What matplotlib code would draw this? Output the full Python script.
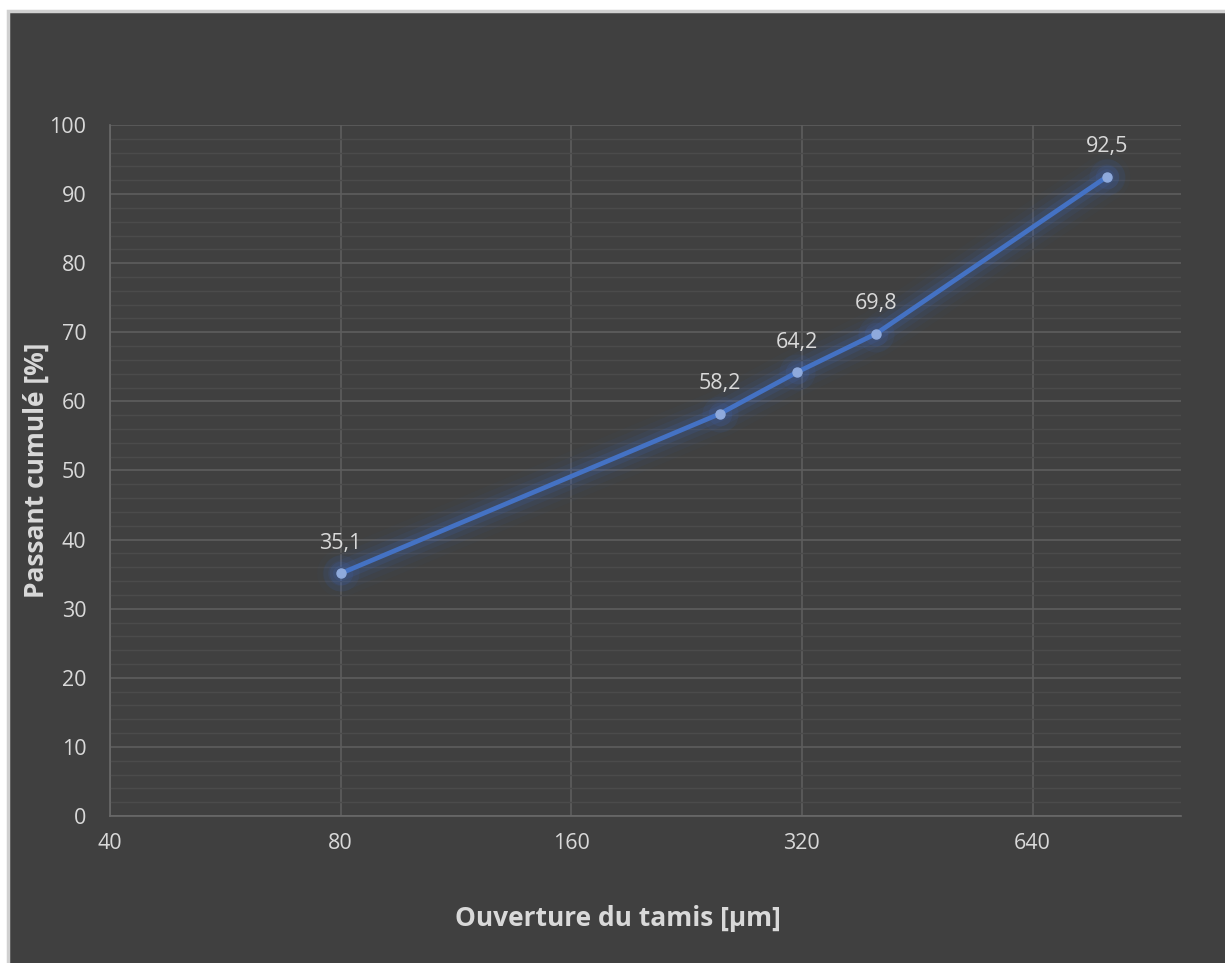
import matplotlib.pyplot as plt
from matplotlib.patches import Rectangle
from matplotlib.ticker import FixedLocator, FixedFormatter, MultipleLocator

# Cumulative passing by sieve opening
ouverture = [80, 250, 315, 400, 800]
passant = [35.1, 58.2, 64.2, 69.8, 92.5]
x_ticks = [40, 80, 160, 320, 640]
x_tick_labels = ['40', '80', '160', '320', '640']

plt.rcParams['font.family'] = ['Open Sans', 'DejaVu Sans']

bg = '#404040'
txt = '#d9d9d9'

fig = plt.figure(figsize=(12.25, 9.63), dpi=100, facecolor='white')
# dark chart area with a light frame on the top/left edges
fig.patches.append(Rectangle((8 / 1225, -0.05), 1.1, 1.05 - 11 / 963,
                             transform=fig.transFigure, facecolor=bg,
                             edgecolor='#d0d0d0', linewidth=2.5, zorder=-1))

ax = fig.add_axes([110 / 1225, 1 - 816 / 963, (1181 - 110) / 1225, (816 - 125) / 963])
ax.set_facecolor(bg)
ax.set_xscale('log', base=2)
ax.set_xlim(40, 1000)
ax.set_ylim(0, 100)

ax.xaxis.set_major_locator(FixedLocator(x_ticks))
ax.xaxis.set_major_formatter(FixedFormatter(x_tick_labels))
ax.xaxis.set_minor_locator(FixedLocator([]))
ax.yaxis.set_major_locator(MultipleLocator(10))
ax.yaxis.set_minor_locator(MultipleLocator(2))

ax.grid(which='major', axis='both', color='#5e5e5e', linewidth=1.2)
ax.grid(which='minor', axis='y', color='#4b4b4b', linewidth=1.0)
ax.set_axisbelow(True)
for side in ['top', 'right']:
    ax.spines[side].set_visible(False)
for side in ['left', 'bottom']:
    ax.spines[side].set_color('#6a6a6a')
    ax.spines[side].set_linewidth(1.2)

ax.tick_params(which='both', length=0, colors=txt, labelsize=15.5)
ax.tick_params(axis='x', pad=12)
ax.tick_params(axis='y', pad=17)

# soft glow under the line
for w, a in [(34, 0.025), (26, 0.045), (18, 0.07), (11, 0.12)]:
    ax.plot(ouverture, passant, color='#3d6fd6', linewidth=w, alpha=a,
            solid_capstyle='round', solid_joinstyle='round')
for w, a in [(26, 0.07), (17, 0.11)]:
    ax.plot(ouverture, passant, linestyle='none', marker='o', markersize=w,
            markerfacecolor='#3d6fd6', markeredgewidth=0, alpha=a)
ax.plot(ouverture, passant, color='#4472c4', linewidth=3.4,
        solid_joinstyle='round')
ax.plot(ouverture, passant, linestyle='none', marker='o', markersize=6.5,
        markerfacecolor='#8faadc', markeredgecolor='#8faadc')

for xv, yv in zip(ouverture, passant):
    ax.annotate(f'{yv:.1f}'.replace('.', ','), (xv, yv), xytext=(0, 14),
                textcoords='offset points', ha='center', va='bottom',
                color=txt, fontsize=15.5)

ax.set_xlabel('Ouverture du tamis [µm]', color=txt, fontsize=19,
              fontweight='bold')
ax.set_ylabel('Passant cumulé [%]', color=txt, fontsize=19,
              fontweight='bold')
ax.xaxis.label.set_va('center')
ax.yaxis.label.set_va('center')
ax.xaxis.set_label_coords(0.474, -0.148)
ax.yaxis.set_label_coords(-0.069, 0.5)

fig.savefig('out.png', dpi=100, facecolor=fig.get_facecolor())
